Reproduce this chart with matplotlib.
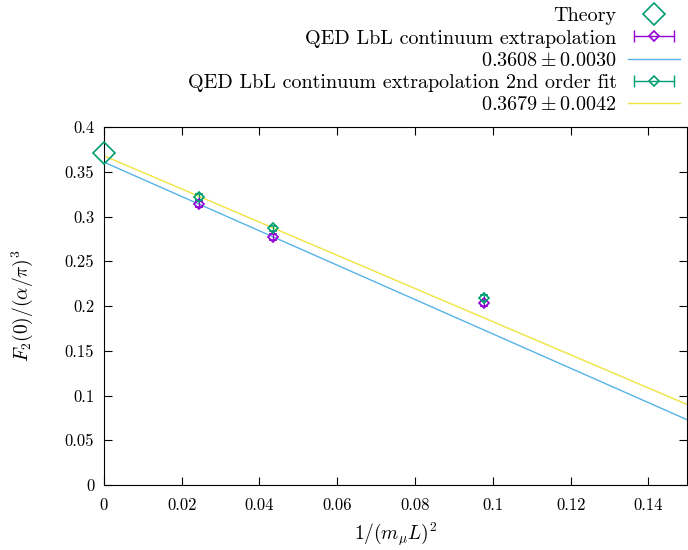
import matplotlib
matplotlib.use("Agg")
import matplotlib.pyplot as plt
from matplotlib.lines import Line2D
from matplotlib.legend_handler import HandlerLine2D, HandlerTuple
import numpy as np

# data
x_pts = [0.0245, 0.0434, 0.0976]
y_lo = [0.314, 0.277, 0.203]
err_lo = [0.003, 0.003, 0.003]
y_hi = [0.322, 0.287, 0.209]
err_hi = [0.003, 0.003, 0.003]
theory_x = [0.0]
theory_y = [0.3710]
fit1 = [0.3608, -1.919]   # intercept, slope
fit2 = [0.3679, -1.853]
fit1_label = r"$0.3608\pm0.0030$"
fit2_label = r"$0.3679\pm0.0042$"

purple = "#9400d3"
green = "#009e73"
blue = "#56b4e9"
yellow = "#f0e442"

plt.rcParams["font.family"] = ["cmr10", "DejaVu Serif"]
plt.rcParams["mathtext.fontset"] = "cm"
plt.rcParams["axes.formatter.use_mathtext"] = True
plt.rcParams["font.size"] = 11

fig = plt.figure(figsize=(6.88, 5.5), dpi=100)
ax = fig.add_axes([0.151, 0.118, 0.848, 0.651])

xx = np.linspace(0, 0.15, 50)
ax.plot(xx, fit1[0] + fit1[1] * xx, color=blue, lw=1)
ax.plot(xx, fit2[0] + fit2[1] * xx, color=yellow, lw=1)

ax.errorbar(x_pts, y_lo, yerr=err_lo, fmt="D", ms=5.5, mfc="none", mec=purple,
            ecolor=purple, capsize=3, elinewidth=1, mew=1.2)
ax.errorbar(x_pts, y_hi, yerr=err_hi, fmt="D", ms=5.5, mfc="none", mec=green,
            ecolor=green, capsize=3, elinewidth=1, mew=1.2)
ax.plot(theory_x, theory_y, "D", ms=11, mfc="none", mec=green, mew=1.2,
        clip_on=False, zorder=5)

ax.set_xlim(0, 0.15)
ax.set_ylim(0, 0.4)
ax.set_xticks(np.arange(0, 0.141, 0.02))
ax.set_xticklabels(["0", "0.02", "0.04", "0.06", "0.08", "0.1", "0.12", "0.14"])
ax.set_yticks(np.arange(0, 0.401, 0.05))
ax.set_yticklabels(["0", "0.05", "0.1", "0.15", "0.2", "0.25", "0.3", "0.35", "0.4"])
ax.tick_params(direction="in", top=True, right=True, length=6, labelsize=12)
ax.tick_params(axis="x", pad=9)
ax.tick_params(axis="y", pad=7)
ax.set_xlabel(r"$1/(m_\mu L)^2$", fontsize=14, labelpad=5)
ax.set_ylabel(r"$F_2(0)/(\alpha/\pi)^3$", fontsize=14, labelpad=21)

# legend handles in gnuplot style
h_theory = Line2D([], [], ls="none", marker="D", ms=11, mfc="none", mec=green, mew=1.2)
cap_p = Line2D([], [], color=purple, marker="|", ms=9, lw=1)
dia_p = Line2D([], [], ls="none", marker="D", ms=5.5, mfc="none", mec=purple, mew=1.2)
cap_g = Line2D([], [], color=green, marker="|", ms=9, lw=1)
dia_g = Line2D([], [], ls="none", marker="D", ms=5.5, mfc="none", mec=green, mew=1.2)
h_fit1 = Line2D([], [], color=blue, lw=1)
h_fit2 = Line2D([], [], color=yellow, lw=1)

handles = [h_theory, (cap_p, dia_p), h_fit1, (cap_g, dia_g), h_fit2]
labels = ["Theory", "QED LbL continuum extrapolation", fit1_label,
          "QED LbL continuum extrapolation 2nd order fit", fit2_label]
hmap = {cap_p: HandlerLine2D(numpoints=2), cap_g: HandlerLine2D(numpoints=2),
        dia_p: HandlerLine2D(numpoints=1), dia_g: HandlerLine2D(numpoints=1),
        h_theory: HandlerLine2D(numpoints=1), tuple: HandlerTuple(ndivide=1)}
fig.legend(handles, labels, handler_map=hmap, loc="upper right",
           bbox_to_anchor=(1.003, 1.005), frameon=False, markerfirst=False,
           fontsize=14.5, handlelength=2.6, handletextpad=0.55,
           labelspacing=0.2, borderpad=0.0)

fig.savefig("out.png", dpi=100)
